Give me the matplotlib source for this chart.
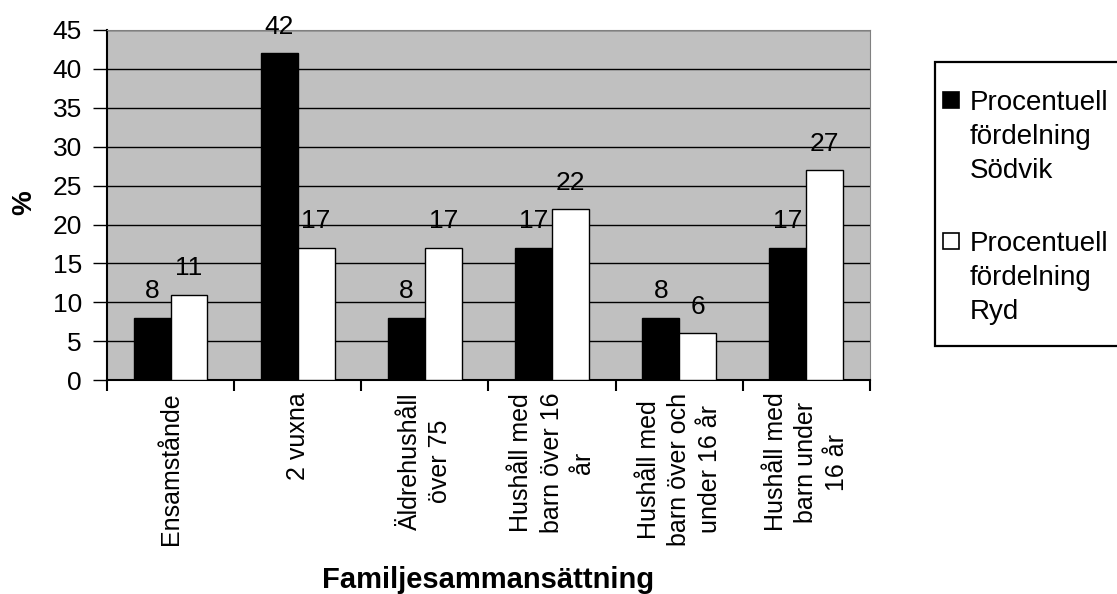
import numpy as np
import matplotlib.pyplot as plt
from matplotlib.patches import Rectangle

plt.rcParams['font.family'] = ['Liberation Sans', 'DejaVu Sans']

categories = ['Ensamstånde', '2 vuxna', 'Äldrehushåll\növer 75',
              'Hushåll med\nbarn över 16\når', 'Hushåll med\nbarn över och\nunder 16 år',
              'Hushåll med\nbarn under\n16 år']
sodvik = [8, 42, 8, 17, 8, 17]
ryd = [11, 17, 17, 22, 6, 27]
series_names = ['Procentuell\nfördelning\nSödvik', 'Procentuell\nfördelning\nRyd']
series_colors = ['black', 'white']

fig = plt.figure(figsize=(11.17, 5.94), dpi=100)
ax = fig.add_axes([0.0958, 0.360, 0.683, 0.5895])
ax.set_facecolor('#C0C0C0')

x = np.arange(len(categories))
w = 0.29
b1 = ax.bar(x - w / 2, sodvik, w, color=series_colors[0], edgecolor='black', linewidth=1, zorder=3)
b2 = ax.bar(x + w / 2, ryd, w, color=series_colors[1], edgecolor='black', linewidth=1, zorder=3)

for bars, vals in [(b1, sodvik), (b2, ryd)]:
    for r, v in zip(bars, vals):
        ax.text(r.get_x() + r.get_width() / 2, v + 2.5, str(v), ha='center', va='baseline',
                fontsize=19, zorder=4, clip_on=False)

ax.set_xlim(-0.5, len(categories) - 0.5)
ax.set_ylim(0, 45)
ax.set_yticks(range(0, 46, 5))
ax.yaxis.grid(True, color='black', linewidth=1, zorder=1)
ax.tick_params(axis='y', labelsize=19, length=10, width=1, direction='out', pad=8)

ax.set_xticks(x)
ax.set_xticklabels(categories, rotation=90, fontsize=18, ha='center', va='top',
                   multialignment='center', linespacing=1.35)
ax.tick_params(axis='x', length=0, pad=9)
ax.set_xticks(np.arange(len(categories) + 1) - 0.5, minor=True)
ax.tick_params(axis='x', which='minor', length=8, width=1.5, direction='out')

for s in ['top', 'right']:
    ax.spines[s].set_color('#808080')
for s in ['left', 'bottom']:
    ax.spines[s].set_color('black')
    ax.spines[s].set_linewidth(1.5)

ax.set_ylabel('%', fontsize=20, fontweight='bold')
ax.yaxis.set_label_coords(-0.092, 0.506)
ax.set_xlabel('Familjesammansättning', fontsize=21, fontweight='bold')
ax.xaxis.set_label_coords(0.5, -0.53)

# legend box, drawn like the Excel one (marker beside the first text line)
fig.patches.append(Rectangle((935 / 1117, 1 - 346 / 594), 0.3, (346 - 62) / 594,
                             transform=fig.transFigure, facecolor='white',
                             edgecolor='black', linewidth=1.6))
for i, (name, col) in enumerate(zip(series_names, series_colors)):
    top = 92 + i * 141
    fig.patches.append(Rectangle((943 / 1117, 1 - (top + 16) / 594), 16 / 1117, 16 / 594,
                                 transform=fig.transFigure, facecolor=col,
                                 edgecolor='black', linewidth=1.2))
    fig.text(970 / 1117, 1 - (top - 2) / 594, name, fontsize=20, ha='left', va='top',
             linespacing=1.4)

fig.savefig('out.png', dpi=100)
